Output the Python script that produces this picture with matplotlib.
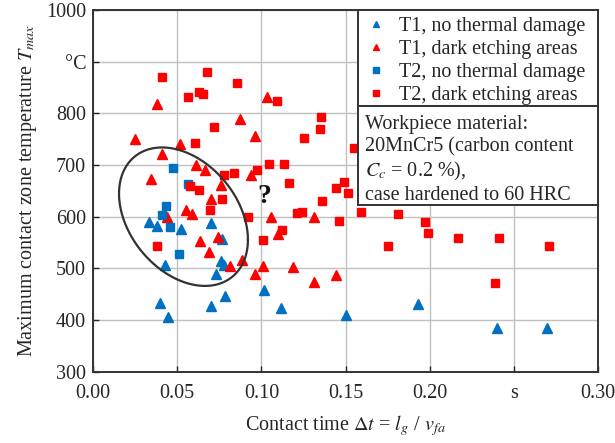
import matplotlib
matplotlib.use("Agg")
import matplotlib.pyplot as plt
import numpy as np
from matplotlib.lines import Line2D
from matplotlib.patches import Rectangle

# ---------------- data ----------------
# T1, no thermal damage (blue triangles)
t1_ok_x = [0.0334, 0.0378, 0.0522, 0.0700, 0.0764, 0.0760, 0.0779, 0.0730, 0.0427,
           0.0395, 0.0443, 0.0700, 0.0781, 0.1018, 0.1116, 0.1502, 0.1931, 0.2397, 0.2694]
t1_ok_y = [590, 582, 576, 588, 556, 515, 506, 490, 506,
           432, 406, 427, 446, 458, 424, 410, 431, 385, 384]

# T1, dark etching areas (red triangles)
t1_dea_x = [0.0381, 0.1031, 0.0874, 0.0247, 0.0962, 0.0516, 0.0407, 0.0610, 0.0662, 0.0936,
            0.0343, 0.0758, 0.0702, 0.0551, 0.0590, 0.0437, 0.0633, 0.0745, 0.0686, 0.0882,
            0.0813, 0.0961, 0.1011, 0.1056, 0.1098, 0.1190, 0.1312, 0.1312, 0.1442]
t1_dea_y = [818, 832, 789, 751, 756, 741, 722, 700, 690, 681,
            672, 661, 634, 613, 605, 600, 553, 561, 532, 516,
            504, 490, 504, 599, 567, 503, 600, 474, 487]

# T2, no thermal damage (blue squares)
t2_ok_x = [0.0476, 0.0562, 0.0431, 0.0407, 0.0457, 0.0508]
t2_ok_y = [694, 663, 620, 603, 580, 528]

# T2, dark etching areas (red squares)
t2_dea_x = [0.0407, 0.0675, 0.0853, 0.0565, 0.0631, 0.0651, 0.1094, 0.0720, 0.1357, 0.1347,
            0.1252, 0.0605, 0.1550, 0.1046, 0.1134, 0.0839, 0.0779, 0.0975, 0.1165, 0.1442,
            0.1492, 0.1515, 0.1363, 0.0575, 0.0630, 0.0767, 0.0694, 0.0922, 0.1011, 0.0378,
            0.1120, 0.1460, 0.1242, 0.1213, 0.1591, 0.1809, 0.1975, 0.1991, 0.1753, 0.2169,
            0.2410, 0.2709, 0.2387]
t2_dea_y = [870, 880, 859, 831, 841, 838, 823, 773, 793, 769,
            753, 742, 733, 702, 702, 684, 680, 690, 665, 655,
            668, 645, 630, 659, 651, 634, 613, 600, 555, 544,
            575, 592, 610, 607, 610, 606, 589, 568, 543, 559,
            558, 544, 471]

labels = ["T1, no thermal damage", "T1, dark etching areas",
          "T2, no thermal damage", "T2, dark etching areas"]

x_ticks = [0.00, 0.05, 0.10, 0.15, 0.20, 0.25, 0.30]
x_tick_labels = ["0.00", "0.05", "0.10", "0.15", "0.20", "s", "0.30"]
y_ticks = [300, 400, 500, 600, 700, 800, 900, 1000]
y_tick_labels = ["300", "400", "500", "600", "700", "800", "\u00b0C", "1000"]

# ellipse annotation (centre, half extents, correlation)
ell_cx, ell_cy = 0.0537, 600
ell_hx, ell_hy = 0.0383, 134
ell_r = -0.333

info_lines = ["Workpiece material:",
              "20MnCr5 (carbon content",
              "$C_c$ = 0.2 %),",
              "case hardened to 60 HRC"]

# ---------------- style ----------------
RED = "#FF0000"
BLUE = "#0070C0"
TXT = "#262626"
FS = 14.5
plt.rcParams["font.family"] = ["Liberation Serif", "DejaVu Serif"]
plt.rcParams["mathtext.fontset"] = "stix"

fig = plt.figure(figsize=(6.15, 4.43), dpi=100)
ax = fig.add_axes([93.1 / 615, (443 - 371.7) / 443, 504.9 / 615, 361.7 / 443])

ax.set_xlim(0, 0.30)
ax.set_ylim(300, 1000)
ax.set_xticks(x_ticks)
ax.set_xticklabels(x_tick_labels)
ax.set_yticks(y_ticks)
ax.set_yticklabels(y_tick_labels)
ax.tick_params(direction="in", length=4, width=1, labelsize=FS, colors=TXT)
ax.tick_params(axis="x", pad=9)
ax.tick_params(axis="y", pad=5)
ax.grid(True, color="#c0c0c0", linewidth=1.0, zorder=0)
ax.set_axisbelow(True)
for s in ax.spines.values():
    s.set_color("#333333")
    s.set_linewidth(1.4)

ms_tri = 6.8
ms_sq = 6.0
ax.plot(t1_ok_x, t1_ok_y, ls="none", marker="^", ms=ms_tri, color=BLUE, zorder=3)
ax.plot(t1_dea_x, t1_dea_y, ls="none", marker="^", ms=ms_tri, color=RED, zorder=3)
ax.plot(t2_ok_x, t2_ok_y, ls="none", marker="s", ms=ms_sq, color=BLUE, zorder=3)
ax.plot(t2_dea_x, t2_dea_y, ls="none", marker="s", ms=ms_sq, color=RED, zorder=3)

# ellipse
th = np.linspace(0, 2 * np.pi, 300)
ex = ell_cx + ell_hx * np.cos(th)
ey = ell_cy + ell_hy * (ell_r * np.cos(th) + np.sqrt(1 - ell_r ** 2) * np.sin(th))
ax.plot(ex, ey, color="#333333", lw=1.6, zorder=4)
ax.text(0.102, 640, "?", fontsize=20, fontweight="bold", ha="center", va="center",
        color="#111111", zorder=5)

ax.set_xlabel("Contact time $\\Delta t$ = $l_g$ / $v_{fa}$", fontsize=FS, color=TXT,
              labelpad=7)
ax.set_ylabel("Maximum contact zone temperature $T_{max}$", fontsize=FS, color=TXT,
              labelpad=5)

# legend box + info box
lx0 = (358 - 93.1) / 504.9
ly_leg = (371.7 - 106) / 361.7
ly_box = (371.7 - 205) / 361.7
ax.add_patch(Rectangle((lx0, ly_leg), 1 - lx0, 1 - ly_leg, transform=ax.transAxes,
                       facecolor="white", edgecolor="#333333", lw=1.4, zorder=6, clip_on=False))
ax.add_patch(Rectangle((lx0, ly_box), 1 - lx0, ly_leg - ly_box, transform=ax.transAxes,
                       facecolor="white", edgecolor="#333333", lw=1.4, zorder=6, clip_on=False))

handles = [Line2D([], [], ls="none", marker="^", ms=5, color=BLUE),
           Line2D([], [], ls="none", marker="^", ms=5, color=RED),
           Line2D([], [], ls="none", marker="s", ms=4.5, color=BLUE),
           Line2D([], [], ls="none", marker="s", ms=4.5, color=RED)]
leg = ax.legend(handles, labels, loc="upper left", bbox_to_anchor=(lx0 + 0.002, 0.995),
                frameon=False, fontsize=FS, handlelength=1.2, handletextpad=0.55,
                labelspacing=0.2, borderaxespad=0.0, borderpad=0.25)
leg.set_zorder(7)
for t in leg.get_texts():
    t.set_color(TXT)

ax.text(lx0 + 0.014, ly_leg - 0.026, "\n".join(info_lines), transform=ax.transAxes,
        fontsize=FS, va="top", ha="left", linespacing=1.2, color=TXT, zorder=7)

fig.savefig("out.png", dpi=100)
